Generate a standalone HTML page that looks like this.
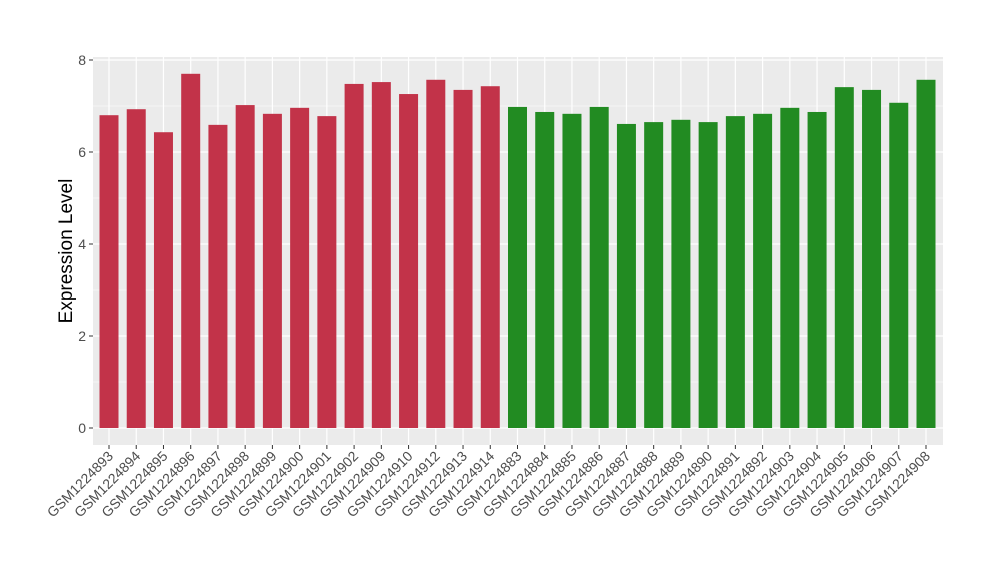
<!DOCTYPE html>
<html><head><meta charset="utf-8"><style>
body{margin:0;background:#fff;font-family:"Liberation Sans",Arial,sans-serif;}
</style></head><body>
<svg width="1000" height="580" xmlns="http://www.w3.org/2000/svg">
<rect x="93" y="57" width="850" height="388" fill="#ebebeb"/>
<g id="grid"></g><g id="bars"></g><g id="axes"></g>
<text x="0" y="0" transform="translate(72,251) rotate(-90)" text-anchor="middle" font-size="19" fill="#000">Expression Level</text>
</svg>
<script>
const categories=["GSM1224893","GSM1224894","GSM1224895","GSM1224896","GSM1224897","GSM1224898","GSM1224899","GSM1224900","GSM1224901","GSM1224902","GSM1224909","GSM1224910","GSM1224912","GSM1224913","GSM1224914","GSM1224883","GSM1224884","GSM1224885","GSM1224886","GSM1224887","GSM1224888","GSM1224889","GSM1224890","GSM1224891","GSM1224892","GSM1224903","GSM1224904","GSM1224905","GSM1224906","GSM1224907","GSM1224908"];
const values=[6.80,6.93,6.43,7.70,6.59,7.02,6.83,6.96,6.78,7.48,7.52,7.26,7.57,7.35,7.43,6.98,6.87,6.83,6.98,6.61,6.65,6.70,6.65,6.78,6.83,6.96,6.87,7.41,7.35,7.07,7.57];
const groups=["a","a","a","a","a","a","a","a","a","a","a","a","a","a","a","b","b","b","b","b","b","b","b","b","b","b","b","b","b","b","b"];
const yTicks=[0,2,4,6,8];
const NS="http://www.w3.org/2000/svg";
const y=v=>428-v*46;
const x=i=>109+i*(926-109)/(categories.length-1);
const g=document.getElementById('grid'),b=document.getElementById('bars'),a=document.getElementById('axes');
function mk(t,at,p){const e=document.createElementNS(NS,t);for(const k in at)e.setAttribute(k,at[k]);p.appendChild(e);return e;}
for(let k=0;k<yTicks.length-1;k++){const l=mk('line',{x1:93,x2:943,y1:y(yTicks[k]+1),y2:y(yTicks[k]+1),stroke:'#fff','stroke-width':0.6},g);

}
yTicks.forEach(t=>{const l=mk('line',{x1:93,x2:943,y1:y(t),y2:y(t),stroke:'#fff','stroke-width':1.2},g);


const tk=mk('line',{x1:89,x2:93,y1:y(t),y2:y(t),stroke:'#333'},a);


const tx=mk('text',{x:86,y:y(t)+5,'text-anchor':'end','font-size':14,fill:'#4d4d4d'},a);tx.textContent=t;

});
categories.forEach((c,i)=>{const gl=mk('line',{x1:x(i),x2:x(i),y1:57,y2:445,stroke:'#fff','stroke-width':1.2},g);


const r=mk('rect',{x:x(i)-9.5,y:y(values[i]),width:19,height:y(0)-y(values[i]),fill:groups[i]==='a'?'#c23349':'#228b22'},b);


const tk=mk('line',{x1:x(i),x2:x(i),y1:445,y2:449,stroke:'#333'},a);


const tx=mk('text',{transform:`translate(${x(i)+5},${457}) rotate(-45)`,'text-anchor':'end','font-size':14,fill:'#4d4d4d'},a);tx.textContent=c;

});
</script>
</body></html>
